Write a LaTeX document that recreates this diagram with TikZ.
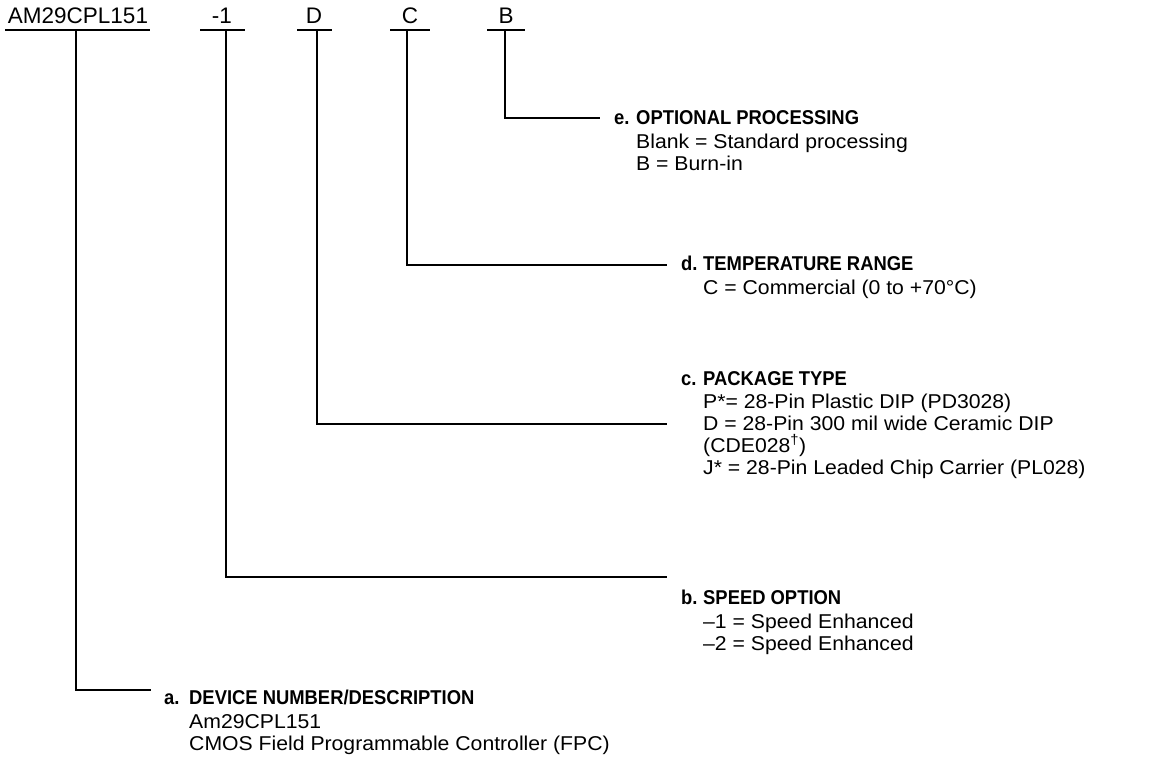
\documentclass[tikz,border=0pt]{standalone}
\usepackage{fontspec}
\setmainfont{Liberation Sans}
\newfontfamily\bodyfont[FakeStretch=1.06]{Liberation Sans}
\newfontfamily\headfont[FakeStretch=0.92]{Liberation Sans}
\begin{document}
\begin{tikzpicture}[x=1pt,y=-1pt,
  conn/.style={line width=1.3pt},
  ul/.style={line width=1.1pt},
  top/.style={anchor=base, inner xsep=0pt, inner ysep=0pt, font=\fontsize{22.5}{24}\selectfont},
  letter/.style={anchor=base west, inner sep=0pt, font=\fontsize{20}{22}\headfont\bfseries},
  head/.style={anchor=base west, inner sep=0pt, font=\fontsize{20}{22}\headfont\bfseries},
  body/.style={anchor=base west, inner sep=0pt, font=\fontsize{20}{22}\bodyfont}]
\useasboundingbox (0,0) rectangle (1157,757);
% top labels
\node[top] (pn) at (78,24) {AM29CPL151};
\node[top] (sp) at (222,24) {-1};
\node[top] (pk) at (314,24) {D};
\node[top] (tr) at (410,24) {C};
\node[top] (op) at (506,24) {B};
\coordinate (pnu) at (76,30);
\coordinate (spu) at (226,30);
\coordinate (pku) at (317,30);
\coordinate (tru) at (407,30);
\coordinate (opu) at (505,30);
\draw[ul] (5,30) -- (150,30);
\draw[ul] (200,30) -- (245,30);
\draw[ul] (297,30) -- (332,30);
\draw[ul] (390,30) -- (430,30);
\draw[ul] (487,30) -- (525,30);
% e
\coordinate (ee) at (600,118);
\node[letter] (le) at (614,125) {e.};
\node[head] (he) at (636,125) {OPTIONAL PROCESSING};
\node[body] (be1) at (636,149) {Blank = Standard processing};
\node[body] (be2) at (636,171) {B = Burn-in};
% d
\coordinate (ed) at (667,265);
\node[letter] (ld) at (681,270) {d.};
\node[head] (hd) at (703,270) {TEMPERATURE RANGE};
\node[body] (bd1) at (703,294) {C = Commercial (0 to +70°C)};
% c
\coordinate (ec) at (667,424);
\node[letter] (lc) at (681,385) {c.};
\node[head] (hc) at (703,385) {PACKAGE TYPE};
\node[body] (bc1) at (703,408) {P*= 28-Pin Plastic DIP (PD3028)};
\node[body] (bc2) at (703,430) {D = 28-Pin 300 mil wide Ceramic DIP};
\node[body] (bc3) at (703,452) {(CDE028\textsuperscript{†})};
\node[body] (bc4) at (703,474) {J* = 28-Pin Leaded Chip Carrier (PL028)};
% b
\coordinate (eb) at (667,577);
\node[letter] (lb) at (681,604) {b.};
\node[head] (hb) at (703,604) {SPEED OPTION};
\node[body] (bb1) at (703,628) {–1 = Speed Enhanced};
\node[body] (bb2) at (703,650) {–2 = Speed Enhanced};
% a
\coordinate (ea) at (151,690);
\node[letter] (la) at (164,704) {a.};
\node[head] (ha) at (189,704) {DEVICE NUMBER/DESCRIPTION};
\node[body] (ba1) at (189,728) {Am29CPL151};
\node[body] (ba2) at (189,750) {CMOS Field Programmable Controller (FPC)};
% connectors
\draw[conn] (opu) |- (ee);
\draw[conn] (tru) |- (ed);
\draw[conn] (pku) |- (ec);
\draw[conn] (spu) |- (eb);
\draw[conn] (pnu) |- (ea);
\end{tikzpicture}
\end{document}
